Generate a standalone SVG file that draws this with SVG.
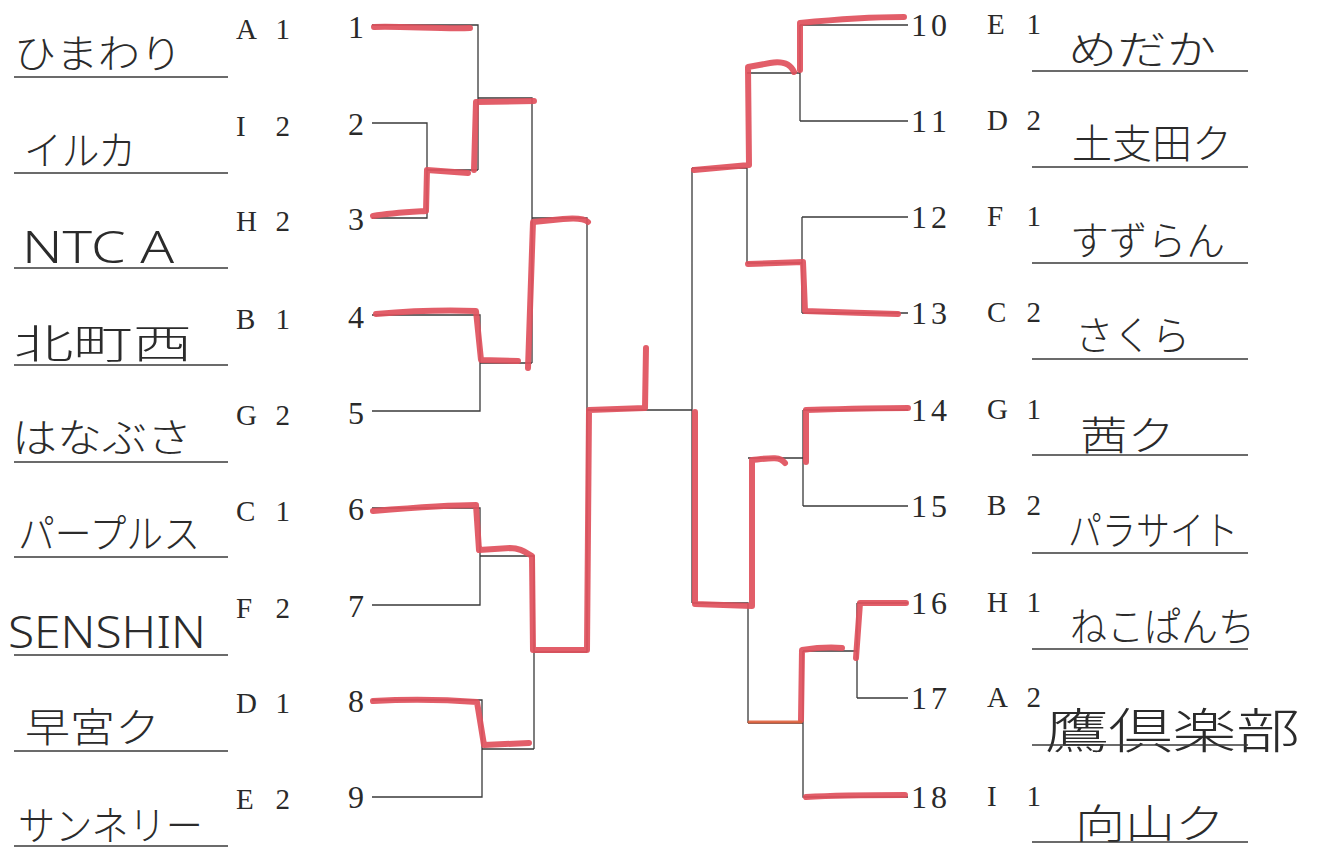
<svg xmlns="http://www.w3.org/2000/svg" width="1328" height="854" viewBox="0 0 1328 854">
<style>
.bg{fill:#ffffff}
.name{font-family:"Noto Sans CJK JP","Noto Sans",sans-serif;font-weight:300;font-size:40px;fill:#2b2b2b}
.lat{font-family:"Noto Sans","DejaVu Sans",sans-serif;font-weight:300;font-size:44px;fill:#2b2b2b}
.seed{font-family:"Liberation Serif","DejaVu Serif",serif;font-size:29px;fill:#2a2a2a}
.num{font-family:"Liberation Serif","DejaVu Serif",serif;font-size:32px;fill:#2a2a2a}
.ul{stroke:#3a3a3a;stroke-width:1.6;fill:none}
.ln{stroke:#3a3a3a;stroke-width:1.3;fill:none}
.win{stroke:#e0505c;stroke-width:6;fill:none;stroke-linecap:round;stroke-linejoin:round;opacity:0.92}
.win2{stroke:#e0603c;stroke-width:3;fill:none;stroke-linecap:round;opacity:0.9}
</style>
<rect class="bg" x="0" y="0" width="1328" height="854"/>

<g id="connectors">
  <path class="ln" d="M372,25 H478 V170 M372,123 H427 V218 H372 M427,170 H478 M478,98 H532 V363 M372,315 H480 V411 H372 M480,363 H532 M532,218 H587 V652 M372,508 H480 V605 H372 M480,556 H534 V749 M372,700 H482 V797 H372 M482,749 H534 M534,652 H587 M587,410 H692"/>
  <path class="ln" d="M692,168 V603 M692,168 H747 V263 M747,73 H800 M800,25 V121 M800,25 H908 M800,121 H908 M747,263 H802 M802,217 V313 M802,217 H908 M802,313 H908 M692,603 H748 V723 M748,458 H803 M803,410 V506 M803,410 H908 M803,506 H908 M748,723 H803 M803,651 V797 H908 M803,651 H857 M857,603 V698 M857,603 H908 M857,698 H908"/>
</g>

<g id="results">
  <path class="win" d="M374,27 C400,26 440,29 470,28"/>
  <path class="win" d="M373,216 C390,213 410,212 426,211 L427,170 L468,173"/>
  <path class="win" d="M474,170 L476,102 L534,101"/>
  <path class="win" d="M376,314 C410,311 450,310 476,311 L481,360 L518,361"/>
  <path class="win" d="M528,368 L533,222 L563,219 C575,218 585,219 588,222"/>
  <path class="win" d="M373,511 C410,508 450,505 476,505 L479,550 L510,548 C520,548 525,552 532,556 L533,650 L587,650 L589,410 L645,408 L646,348"/>
  <path class="win" d="M373,701 C410,699 450,700 477,702 L484,745 L529,743"/>
  <path class="win" d="M904,17 C870,17 830,20 800,23 L800,70"/>
  <path class="win" d="M794,72 C790,63 782,61 770,63 L748,67 L749,165 L694,170"/>
  <path class="win" d="M898,314 C870,313 830,312 805,311 L803,262 L748,264"/>
  <path class="win" d="M908,408 C880,408 840,409 806,410 L806,462"/>
  <path class="win" d="M785,463 C780,456 770,458 752,460 L752,606 L695,604 L695,412"/>
  <path class="win" d="M906,603 L860,603 L856,658"/>
  <path class="win" d="M842,648 C830,647 815,648 802,650 L801,720"/>
  <path class="win2" d="M801,722 L749,722"/>
  <path class="win" d="M806,797 C840,795 870,795 905,795"/>
</g>

<g id="team-1"><text class="name" x="14" y="68" textLength="168" lengthAdjust="spacingAndGlyphs">ひまわり</text><line class="ul" x1="14" y1="77" x2="228" y2="77"/><text class="seed" x="236" y="39" textLength="54" lengthAdjust="spacing">A 1</text><text class="num" x="364" y="38" text-anchor="end">1</text></g>
<g id="team-2"><text class="name" x="24" y="165" textLength="112" lengthAdjust="spacingAndGlyphs">イルカ</text><line class="ul" x1="14" y1="173" x2="228" y2="173"/><text class="seed" x="236" y="136" textLength="54" lengthAdjust="spacing">I 2</text><text class="num" x="364" y="135" text-anchor="end">2</text></g>
<g id="team-3"><text class="lat" x="22" y="263" textLength="152" lengthAdjust="spacingAndGlyphs">NTC A</text><line class="ul" x1="14" y1="268" x2="228" y2="268"/><text class="seed" x="236" y="231" textLength="54" lengthAdjust="spacing">H 2</text><text class="num" x="364" y="230" text-anchor="end">3</text></g>
<g id="team-4"><text class="name" x="14" y="358" textLength="178" lengthAdjust="spacingAndGlyphs">北町西</text><line class="ul" x1="14" y1="365" x2="228" y2="365"/><text class="seed" x="236" y="329" textLength="54" lengthAdjust="spacing">B 1</text><text class="num" x="364" y="328" text-anchor="end">4</text></g>
<g id="team-5"><text class="name" x="12" y="452" textLength="180" lengthAdjust="spacingAndGlyphs">はなぶさ</text><line class="ul" x1="14" y1="462" x2="228" y2="462"/><text class="seed" x="236" y="425" textLength="54" lengthAdjust="spacing">G 2</text><text class="num" x="364" y="424" text-anchor="end">5</text></g>
<g id="team-6"><text class="name" x="18" y="548" textLength="182" lengthAdjust="spacingAndGlyphs">パープルス</text><line class="ul" x1="14" y1="557" x2="228" y2="557"/><text class="seed" x="236" y="521" textLength="54" lengthAdjust="spacing">C 1</text><text class="num" x="364" y="520" text-anchor="end">6</text></g>
<g id="team-7"><text class="lat" x="8" y="648" textLength="198" lengthAdjust="spacingAndGlyphs">SENSHIN</text><line class="ul" x1="14" y1="655" x2="228" y2="655"/><text class="seed" x="236" y="618" textLength="54" lengthAdjust="spacing">F 2</text><text class="num" x="364" y="617" text-anchor="end">7</text></g>
<g id="team-8"><text class="name" x="25" y="742" textLength="135" lengthAdjust="spacingAndGlyphs">早宮ク</text><line class="ul" x1="14" y1="751" x2="228" y2="751"/><text class="seed" x="236" y="713" textLength="54" lengthAdjust="spacing">D 1</text><text class="num" x="364" y="712" text-anchor="end">8</text></g>
<g id="team-9"><text class="name" x="18" y="840" textLength="185" lengthAdjust="spacingAndGlyphs">サンネリー</text><line class="ul" x1="14" y1="846" x2="228" y2="846"/><text class="seed" x="236" y="809" textLength="54" lengthAdjust="spacing">E 2</text><text class="num" x="364" y="808" text-anchor="end">9</text></g>

<g id="team-10"><text class="num" x="911" y="36" textLength="36" lengthAdjust="spacing">10</text><text class="seed" x="987" y="34" textLength="54" lengthAdjust="spacing">E 1</text><text class="name" x="1068" y="64" textLength="148" lengthAdjust="spacingAndGlyphs">めだか</text><line class="ul" x1="1032" y1="71" x2="1248" y2="71"/></g>
<g id="team-11"><text class="num" x="911" y="132" textLength="36" lengthAdjust="spacing">11</text><text class="seed" x="987" y="130" textLength="54" lengthAdjust="spacing">D 2</text><text class="name" x="1072" y="158" textLength="160" lengthAdjust="spacingAndGlyphs">土支田ク</text><line class="ul" x1="1032" y1="167" x2="1248" y2="167"/></g>
<g id="team-12"><text class="num" x="911" y="228" textLength="36" lengthAdjust="spacing">12</text><text class="seed" x="987" y="226" textLength="54" lengthAdjust="spacing">F 1</text><text class="name" x="1070" y="255" textLength="155" lengthAdjust="spacingAndGlyphs">すずらん</text><line class="ul" x1="1032" y1="263" x2="1248" y2="263"/></g>
<g id="team-13"><text class="num" x="911" y="324" textLength="36" lengthAdjust="spacing">13</text><text class="seed" x="987" y="322" textLength="54" lengthAdjust="spacing">C 2</text><text class="name" x="1075" y="350" textLength="115" lengthAdjust="spacingAndGlyphs">さくら</text><line class="ul" x1="1032" y1="359" x2="1248" y2="359"/></g>
<g id="team-14"><text class="num" x="911" y="421" textLength="36" lengthAdjust="spacing">14</text><text class="seed" x="987" y="419" textLength="54" lengthAdjust="spacing">G 1</text><text class="name" x="1080" y="450" textLength="95" lengthAdjust="spacingAndGlyphs">茜ク</text><line class="ul" x1="1032" y1="455" x2="1248" y2="455"/></g>
<g id="team-15"><text class="num" x="911" y="517" textLength="36" lengthAdjust="spacing">15</text><text class="seed" x="987" y="515" textLength="54" lengthAdjust="spacing">B 2</text><text class="name" x="1068" y="545" textLength="170" lengthAdjust="spacingAndGlyphs">パラサイト</text><line class="ul" x1="1032" y1="553" x2="1248" y2="553"/></g>
<g id="team-16"><text class="num" x="911" y="614" textLength="36" lengthAdjust="spacing">16</text><text class="seed" x="987" y="612" textLength="54" lengthAdjust="spacing">H 1</text><text class="name" x="1070" y="641" textLength="185" lengthAdjust="spacingAndGlyphs">ねこぱんち</text><line class="ul" x1="1032" y1="649" x2="1248" y2="649"/></g>
<g id="team-17"><text class="num" x="911" y="709" textLength="36" lengthAdjust="spacing">17</text><text class="seed" x="987" y="707" textLength="54" lengthAdjust="spacing">A 2</text><text class="name" x="1045" y="748" textLength="255" lengthAdjust="spacingAndGlyphs" style="font-size:48px">鷹倶楽部</text><line class="ul" x1="1032" y1="745" x2="1248" y2="745"/></g>
<g id="team-18"><text class="num" x="911" y="808" textLength="36" lengthAdjust="spacing">18</text><text class="seed" x="987" y="806" textLength="54" lengthAdjust="spacing">I 1</text><text class="name" x="1075" y="838" textLength="150" lengthAdjust="spacingAndGlyphs">向山ク</text><line class="ul" x1="1032" y1="842" x2="1248" y2="842"/></g>
</svg>
